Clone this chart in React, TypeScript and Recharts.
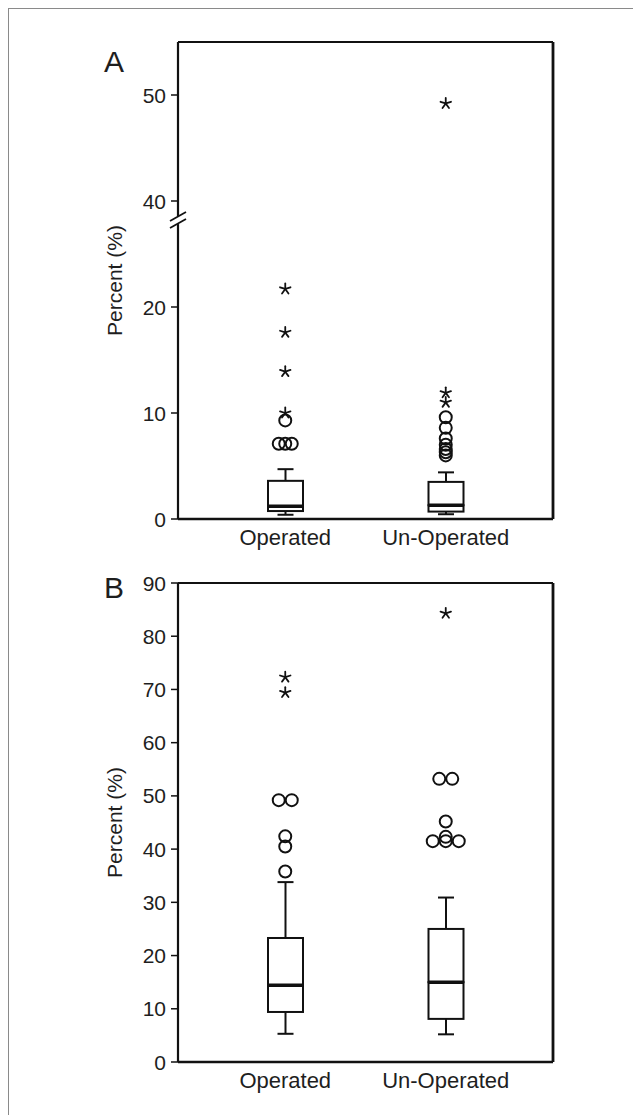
import React from 'react';
import { ComposedChart, Bar, Scatter, XAxis, YAxis } from 'recharts';

const groups = ['Operated', 'Un-Operated'];

// Panel A, percent (the axis is broken between 30 and 40)
const aMin = [0.4, 0.45];
const aQ1 = [0.75, 0.7];
const aMedian = [1.2, 1.3];
const aQ3 = [3.6, 3.5];
const aMax = [4.7, 4.4];
const aCirclesOperated = [9.3, 7.1, 7.1, 7.1];
const aStarsOperated = [10.0, 13.9, 17.6, 21.7];
const aCirclesUnOperated = [9.6, 8.6, 7.6, 7.0, 6.6, 6.3, 6.0];
const aStarsUnOperated = [11.0, 11.9, 49.2];
const aTicks = [0, 10, 20, 40, 50];

// Panel B, percent
const bMin = [5.3, 5.2];
const bQ1 = [9.4, 8.1];
const bMedian = [14.4, 15.0];
const bQ3 = [23.3, 25.0];
const bMax = [33.8, 30.9];
const bCirclesOperated = [35.8, 40.5, 42.4, 49.2, 49.2];
const bStarsOperated = [69.4, 72.3];
const bCirclesUnOperated = [41.5, 41.5, 41.5, 42.3, 45.2, 53.2, 53.2];
const bStarsUnOperated = [84.3];
const bTicks = [0, 10, 20, 30, 40, 50, 60, 70, 80, 90];

const BREAK_FROM = 30;
const BREAK_GAP = 10;
const BREAK_MARK = 28.2;

const FONT = '"Liberation Sans", Arial, Helvetica, sans-serif';
const INK = '#111';
const TEXT = '#1e1e1e';
const TICK_SIZE = 7;
const TICK_MARGIN = 5;

const brokenA = (v: number) => (v >= BREAK_FROM + BREAK_GAP ? v - BREAK_GAP : v);
const plain = (v: number) => v;

function boxRows(min: number[], q1: number[], med: number[], q3: number[], max: number[], f: (v: number) => number) {
  return groups.map((name, i) => ({
    name,
    base: f(min[i]),
    lowWhisker: f(q1[i]) - f(min[i]),
    lowBox: f(med[i]) - f(q1[i]),
    highBox: f(q3[i]) - f(med[i]),
    highWhisker: f(max[i]) - f(q3[i]),
  }));
}

// equal values are laid side by side, like the stats package does
function outlierPoints(name: string, values: number[], f: (v: number) => number, spacing: number) {
  return values.map((v, i) => {
    const count = values.filter((w) => w === v).length;
    const idx = values.slice(0, i).filter((w) => w === v).length;
    return { name, value: f(v), shift: (idx - (count - 1) / 2) * spacing };
  });
}

const LowWhisker = (p: any) => {
  const cx = p.x + p.width / 2;
  return (
    <g stroke={INK} strokeWidth={2}>
      <line x1={cx} x2={cx} y1={p.y} y2={p.y + p.height} />
      <line x1={cx - 8} x2={cx + 8} y1={p.y + p.height} y2={p.y + p.height} />
    </g>
  );
};

const HighWhisker = (p: any) => {
  const cx = p.x + p.width / 2;
  return (
    <g stroke={INK} strokeWidth={2}>
      <line x1={cx} x2={cx} y1={p.y} y2={p.y + p.height} />
      <line x1={cx - 8} x2={cx + 8} y1={p.y} y2={p.y} />
    </g>
  );
};

const LowBox = (p: any) => (
  <g>
    <rect x={p.x} y={p.y} width={p.width} height={p.height} fill="none" stroke={INK} strokeWidth={2} />
    <line x1={p.x} x2={p.x + p.width} y1={p.y} y2={p.y} stroke={INK} strokeWidth={3.5} />
  </g>
);

const HighBox = (p: any) => (
  <rect x={p.x} y={p.y} width={p.width} height={p.height} fill="none" stroke={INK} strokeWidth={2} />
);

const Circle = (p: any) => (
  <circle cx={p.cx + p.payload.shift} cy={p.cy} r={6} fill="none" stroke={INK} strokeWidth={2} />
);

const Star = (p: any) => {
  const cx = p.cx + p.payload.shift;
  const spokes = [-90, -18, 54, 126, 198];
  return (
    <g stroke={INK} strokeWidth={1.8} strokeLinecap="round">
      {spokes.map((a) => (
        <line
          key={a}
          x1={cx}
          y1={p.cy}
          x2={cx + 5.5 * Math.cos((a * Math.PI) / 180)}
          y2={p.cy + 5.5 * Math.sin((a * Math.PI) / 180)}
        />
      ))}
    </g>
  );
};

function makeTick(labelOf: (v: number) => string | null) {
  return (p: any) => {
    const axisX = p.x + TICK_SIZE + TICK_MARGIN;
    const label = labelOf(p.payload.value);
    if (label === null) {
      // axis break
      return (
        <g>
          <rect x={axisX - 3} y={p.y - 4} width={6} height={8} fill="#fff" />
          <line x1={axisX - 8} y1={p.y + 1} x2={axisX + 8} y2={p.y - 8} stroke={INK} strokeWidth={1.8} />
          <line x1={axisX - 8} y1={p.y + 8} x2={axisX + 8} y2={p.y - 1} stroke={INK} strokeWidth={1.8} />
        </g>
      );
    }
    return (
      <g>
        <line x1={axisX - TICK_SIZE} x2={axisX} y1={p.y} y2={p.y} stroke={INK} strokeWidth={1.5} />
        <text x={p.x} y={p.y} dy="0.36em" textAnchor="end" fontSize={21} fontFamily={FONT} fill={TEXT}>
          {label}
        </text>
      </g>
    );
  };
}

function BoxPanel(props: {
  rows: any[];
  circles: any[];
  stars: any[];
  domain: [number, number];
  ticks: number[];
  labelOf: (v: number) => string | null;
  marginTop: number;
  height: number;
}) {
  return (
    <ComposedChart
      width={600}
      height={props.height}
      data={props.rows}
      margin={{ top: props.marginTop, right: 55, bottom: 10, left: 43 }}
      barCategoryGap={0}
    >
      <XAxis
        dataKey="name"
        allowDuplicatedCategory={false}
        padding={{ left: 27, right: 27 }}
        axisLine={{ stroke: INK, strokeWidth: 2.5 }}
        tickLine={false}
        tickSize={0}
        tickMargin={10}
        height={40}
        tick={{ fontSize: 22, fontFamily: FONT, fill: TEXT }}
      />
      <XAxis
        xAxisId="top"
        orientation="top"
        height={1}
        tick={false}
        tickLine={false}
        axisLine={{ stroke: INK, strokeWidth: 2.2 }}
      />
      <YAxis
        type="number"
        domain={props.domain}
        ticks={props.ticks}
        interval={0}
        width={126}
        tickSize={TICK_SIZE}
        tickMargin={TICK_MARGIN}
        tickLine={false}
        axisLine={{ stroke: INK, strokeWidth: 2.2 }}
        tick={makeTick(props.labelOf)}
        label={{ value: 'Percent (%)', angle: -90, position: 'center', fontSize: 21, fontFamily: FONT, fill: TEXT }}
      />
      <YAxis
        yAxisId="right"
        orientation="right"
        width={1}
        domain={props.domain}
        tick={false}
        tickLine={false}
        axisLine={{ stroke: INK, strokeWidth: 2.8 }}
      />
      <Bar dataKey="base" stackId="box" barSize={35} fill="none" isAnimationActive={false} />
      <Bar dataKey="lowWhisker" stackId="box" barSize={35} shape={LowWhisker} isAnimationActive={false} />
      <Bar dataKey="lowBox" stackId="box" barSize={35} shape={LowBox} isAnimationActive={false} />
      <Bar dataKey="highBox" stackId="box" barSize={35} shape={HighBox} isAnimationActive={false} />
      <Bar dataKey="highWhisker" stackId="box" barSize={35} shape={HighWhisker} isAnimationActive={false} />
      <Scatter data={props.circles} dataKey="value" shape={Circle} isAnimationActive={false} />
      <Scatter data={props.stars} dataKey="value" shape={Star} isAnimationActive={false} />
    </ComposedChart>
  );
}

const aDisplayTicks = [...aTicks.map(brokenA), BREAK_MARK];
const aLabel = (v: number) => {
  if (v === BREAK_MARK) return null;
  const t = aTicks.find((x) => brokenA(x) === v);
  return t === undefined ? '' : String(t);
};
const bLabel = (v: number) => String(v);

export default function App() {
  const aRows = boxRows(aMin, aQ1, aMedian, aQ3, aMax, brokenA);
  const aCircles = [
    ...outlierPoints(groups[0], aCirclesOperated, brokenA, 6.5),
    ...outlierPoints(groups[1], aCirclesUnOperated, brokenA, 6.5),
  ];
  const aStars = [
    ...outlierPoints(groups[0], aStarsOperated, brokenA, 6.5),
    ...outlierPoints(groups[1], aStarsUnOperated, brokenA, 6.5),
  ];
  const bRows = boxRows(bMin, bQ1, bMedian, bQ3, bMax, plain);
  const bCircles = [
    ...outlierPoints(groups[0], bCirclesOperated, plain, 13),
    ...outlierPoints(groups[1], bCirclesUnOperated, plain, 13),
  ];
  const bStars = [
    ...outlierPoints(groups[0], bStarsOperated, plain, 13),
    ...outlierPoints(groups[1], bStarsUnOperated, plain, 13),
  ];

  const letter: React.CSSProperties = {
    position: 'absolute',
    left: 95,
    fontSize: 30,
    lineHeight: '30px',
    fontFamily: FONT,
    color: TEXT,
  };

  return (
    <div style={{ position: 'relative', width: 624, height: 1115, border: '1px solid #8a8a8a', background: '#fff' }}>
      <div style={{ position: 'absolute', left: 0, top: 0 }}>
        <BoxPanel
          rows={aRows}
          circles={aCircles}
          stars={aStars}
          domain={[0, 45]}
          ticks={aDisplayTicks}
          labelOf={aLabel}
          marginTop={32}
          height={560}
        />
      </div>
      <div style={{ position: 'absolute', left: 0, top: 551 }}>
        <BoxPanel
          rows={bRows}
          circles={bCircles}
          stars={bStars}
          domain={[0, 90]}
          ticks={bTicks}
          labelOf={bLabel}
          marginTop={22}
          height={552}
        />
      </div>
      <div style={{ ...letter, top: 38 }}>A</div>
      <div style={{ ...letter, top: 564 }}>B</div>
    </div>
  );
}
